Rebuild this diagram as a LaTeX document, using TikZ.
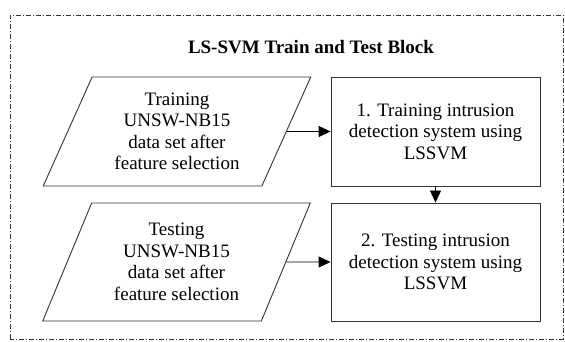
\documentclass[tikz,border=0pt]{standalone}
\usepackage{fontspec}
\setmainfont{Liberation Serif}
\usetikzlibrary{shapes.geometric,arrows.meta}

\begin{document}
\begin{tikzpicture}[x=1pt,y=1pt,>={Triangle[length=12pt,width=11pt]},
    every node/.style={font=\fontsize{19}{21.5}\selectfont},
    dataset/.style={trapezium,trapezium left angle=65,trapezium right angle=115,
                    trapezium stretches=true,draw=black!80,line width=0.9pt,
                    minimum width=268,align=center,inner sep=0pt},
    process/.style={rectangle,draw=black!80,line width=0.9pt,
                    minimum width=209,align=center}]
       \useasboundingbox (0,0) rectangle (565,342);
       \draw[black!80,line width=0.9pt,dash pattern=on 5pt off 2pt on 1pt off 2pt]
             (10,3) rectangle (563,327);
       \node (title) at (311,295) [font=\bfseries\fontsize{19}{21.5}\selectfont]
             {LS-SVM Train and Test Block};
       \node (traindata) at (177,210.5) [dataset,minimum height=109]
             {Training\\UNSW-NB15\\data set after\\feature selection};
       \node (testdata) at (176.5,80) [dataset,minimum height=118]
             {Testing\\UNSW-NB15\\data set after\\feature selection};
       \node (trainlssvm) at (435.5,210.5) [process,minimum height=109]
             {1. Training intrusion\\detection system using\\LSSVM};
       \node (testlssvm) at (435.5,80) [process,minimum height=118]
             {2. Testing intrusion\\detection system using\\LSSVM};
       \draw [->,line width=0.9pt] (traindata.east) -- (trainlssvm.west);
       \draw [->,line width=0.9pt] (testdata.east) -- (testlssvm.west);
       \draw [->,line width=0.9pt] (trainlssvm) -- (testlssvm);
     \end{tikzpicture}
\end{document}
